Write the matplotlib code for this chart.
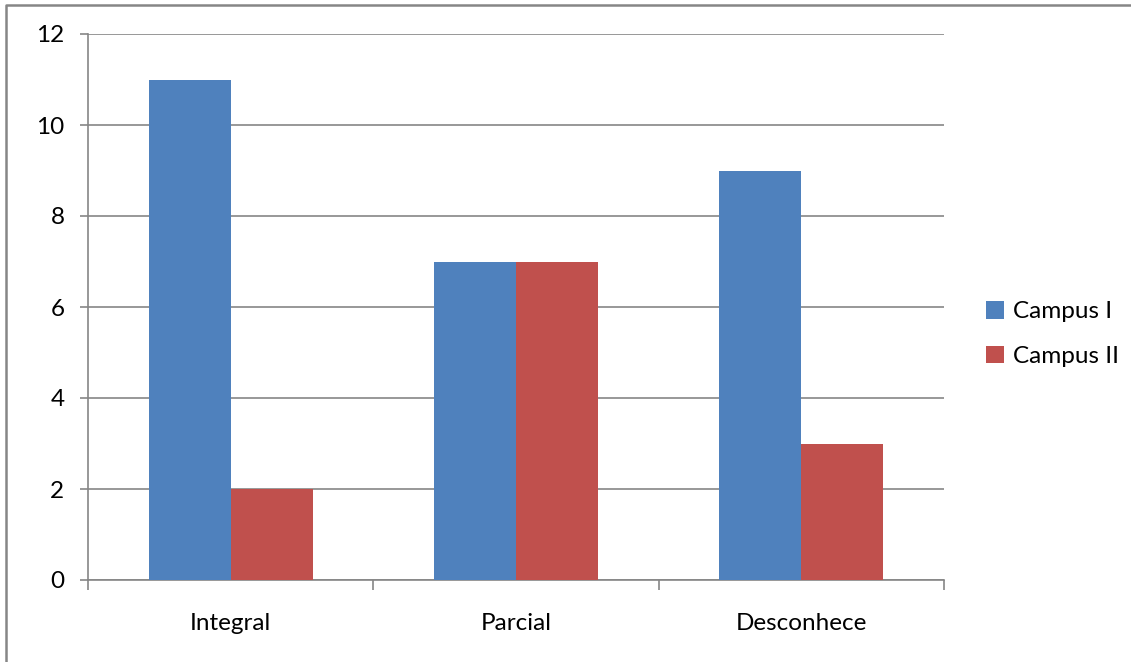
import numpy as np
import matplotlib
matplotlib.use("Agg")
import matplotlib.pyplot as plt
from matplotlib.lines import Line2D

categories = ["Integral", "Parcial", "Desconhece"]
campus_1 = [11, 7, 9]
campus_2 = [2, 7, 3]
series_names = ["Campus I", "Campus II"]
yticks = [0, 2, 4, 6, 8, 10, 12]

blue = "#4F81BD"
red = "#C0504D"
grey = "#868686"
fs = 17.5

plt.rcParams["font.family"] = ["Lato", "DejaVu Sans"]

fig = plt.figure(figsize=(11.31, 6.62), dpi=100)
W, H = 1131, 662

# outer chart border (only top and left edges are inside the picture)
fig.lines.append(Line2D([6 / W, 6 / W, 1.0], [0.0, 1 - 5 / H, 1 - 5 / H], transform=fig.transFigure,
                        color=grey, linewidth=1.8))

ax = fig.add_axes([88 / W, (662 - 580) / H, (944 - 88) / W, (580 - 34) / H])

x = np.arange(len(categories)) + 0.5
w = 0.287
ax.bar(x - w / 2, campus_1, width=w, color=blue, label=series_names[0], zorder=3)
ax.bar(x + w / 2, campus_2, width=w, color=red, label=series_names[1], zorder=3)

ax.set_xlim(0, 3)
ax.set_ylim(0, 12)
ax.set_yticks(yticks)
ax.set_yticklabels([str(v) for v in yticks], fontsize=fs)
ax.yaxis.grid(True, color=grey, linewidth=1.2, zorder=0)
ax.set_axisbelow(True)

ax.set_xticks([0, 1, 2, 3])
ax.set_xticklabels([])
ax.set_xticks(x, minor=True)
ax.set_xticklabels(categories, minor=True, fontsize=fs)
ax.tick_params(axis="x", which="minor", length=0, pad=24)
ax.tick_params(axis="x", which="major", length=7, width=1.2, color=grey)
ax.tick_params(axis="y", length=6, width=1.2, color=grey, pad=11)

for s in ["top", "right"]:
    ax.spines[s].set_visible(False)
for s in ["left", "bottom"]:
    ax.spines[s].set_color(grey)
    ax.spines[s].set_linewidth(1.2)

leg = fig.legend(loc="center left", bbox_to_anchor=(986 / W, (662 - 334) / H),
                 frameon=False, fontsize=fs, handlelength=0.75, handleheight=0.75,
                 handletextpad=0.35, labelspacing=0.95, borderpad=0, borderaxespad=0)

fig.savefig("out.png", dpi=100)
